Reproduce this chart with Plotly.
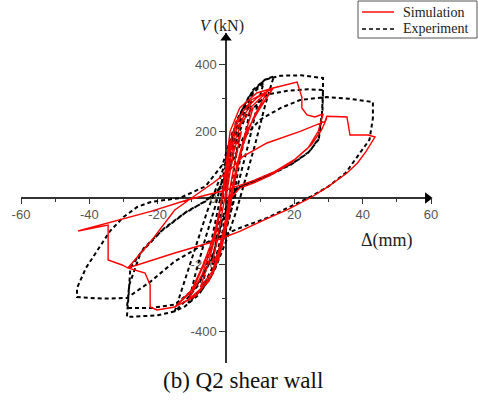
import plotly.graph_objects as go

# ---------------- data (displacement in mm, shear force in kN) ----------------
sim_disp_small = [0, 1.2, 2.5, 4.5, 2.8, 1.2, 0.3, -1, -2.5, -4, -2.5, -1, 0,
                  0.8, 2.2, 4.5, 8, 5.5, 3.2, 1.4, 0, -1.8, -4, -7.5, -5, -2.8, -1.2, 0,
                  1, 2.8, 6, 12, 8, 5, 3, 1.5, -0.2, -2, -5, -11, -7, -4, -2, -0.5,
                  0.6, 1.8, 5, 9, 13.8, 8.5, 5.5, 3.5, 1.8, 0.2, -1.8, -4.5, -9, -15,
                  -9.5, -6.5, -3.5, -1.5, -0.3,
                  0.8, 3, 7.5, 13.8, 10, 6, 3.8, 2, 0.5, -1.5, -4, -8.5, -15,
                  -10.5, -6.7, -3, -1.2, 0, 1.2, 4, 9, 13.8]
sim_force_small = [0, 80, 150, 200, 120, 30, -40, -110, -170, -195, -120, -40, 20,
                   90, 160, 225, 272, 190, 100, 10, -70, -150, -220, -268, -190, -100, -10, 60,
                   130, 200, 260, 318, 240, 160, 80, 0, -90, -180, -250, -305, -230, -140, -50, 30,
                   110, 190, 260, 300, 330, 250, 180, 100, 10, -80, -170, -240, -295, -327,
                   -270, -200, -110, -20, 60,
                   150, 230, 295, 330, 270, 200, 110, 20, -70, -160, -230, -290, -327,
                   -285, -200, -100, 0, 100, 200, 270, 315, 330]

sim_disp_large = [20.8, 22.2, 22.2, 23.7, 26, 28.4,
                  27, 24, 19, 13, 8, 4, 1.5, 0, -1.5, -4, -8.5, -15,
                  -20.2, -22.2, -22.2, -23.7, -28.7,
                  -22, -15, -8, -3.8, 1.2, 5, 12, 21.7, 29, 29.5, 35.4, 36.3, 41.6, 43.6,
                  41, 38.5, 35.4, 30, 24.6, 18, 12, 4, -5, -15, -28.7,
                  -30.4, -34.5, -34.5, -43.3,
                  -34.5, -22, -11.4, -4, 0, 4, 8, 14, 20, 25, 28, 29.5]
sim_force_large = [348, 303, 270, 249, 243, 252,
                   200, 150, 105, 68, 45, 30, 0, -60, -150, -230, -290, -327,
                   -336, -327, -261, -225, -210,
                   -130, -36, 15, 45, 84, 125, 165, 200, 230, 245, 243, 189, 189, 183,
                   140, 105, 75, 35, 0, -35, -62, -100, -135, -165, -210,
                   -201, -186, -81, -99,
                   -74, -40, -6, 12, 24, 38, 52, 78, 115, 160, 205, 240]

exp_disp_small = [0, 1, 2.5, 4, 3, 1.5, 0.5, -1, -2.5, -4, -3, -1.5, -0.5,
                  1, 3, 5.5, 7.5, 6, 4, 2.5, 1, -1.5, -4, -7, -5.5, -3.5, -1.5, 0,
                  2, 5, 8, 11, 9, 6.5, 4, 2, -0.5, -3.5, -7, -11, -9, -6, -3, -1,
                  1.5, 4.5, 8, 11.4, 14, 11.5, 8.5, 5.5, 3, 0, -3.5, -8, -12, -15,
                  -12.5, -9, -5.5, -2.5, 0]
exp_force_small = [0, 80, 150, 200, 130, 40, -30, -100, -160, -200, -130, -40, 30,
                   110, 190, 255, 290, 210, 110, 20, -60, -150, -230, -275, -190, -90, 10, 80,
                   170, 260, 315, 345, 270, 160, 60, -20, -110, -200, -270, -315, -230, -120, -20, 60,
                   160, 260, 325, 355, 365, 280, 160, 50, -40, -130, -220, -290, -325, -340,
                   -260, -150, -40, 40, 110]

exp_disp_large = [3, 7, 11.4, 16, 22, 28.4,
                  28.4, 28.1, 27, 24, 19, 13, 8, 4, 1, -1, -3.5, -8, -12, -15, -20, -29,
                  -28.5, -28, -24, -18, -11.4, -6, -2,
                  2, 6, 12, 18, 24, 28.4,
                  28.2, 27.2, 24.5, 19.5, 13.5, 8.5, 4.5, 1.5, -1, -4, -9, -15, -22, -29,
                  -28.3, -25, -19, -12, -6.5, -2.5,
                  1, 5, 10, 16, 21.7, 29.5, 36, 43,
                  43, 42, 40, 37, 35, 30, 25, 20, 12, 4, -5, -15, -22, -29, -36, -43.6,
                  -43.6, -41, -37.5, -34, -30, -26, -22, -13.5, -6, -1, 2]
exp_force_large = [230, 310, 355, 367, 368, 360,
                   330, 255, 174, 135, 100, 70, 48, 33, 5, -60, -160, -260, -310, -340, -352, -357,
                   -290, -210, -150, -90, -40, -10, 25,
                   150, 250, 310, 322, 326, 324,
                   250, 180, 140, 104, 74, 52, 36, 8, -70, -180, -270, -320, -330, -330,
                   -260, -165, -100, -45, -12, 20,
                   90, 180, 235, 270, 294, 303, 298, 288,
                   240, 175, 147, 105, 75, 35, 5, -20, -60, -90, -130, -190, -250, -300, -302, -297,
                   -270, -210, -156, -100, -57, -27, -12, 0, 35, 100, 200]

series_names = ["Simulation", "Experiment"]
series_colors = ["#ff0000", "black"]

x_ticks = [-60, -40, -20, 20, 40, 60]
x_tick_text = ["-60", "-40", "-20", "20", "40", "60"]
x_minor = [-50, -30, -10, 10, 30, 50]
y_ticks = [-400, -200, 0, 200, 400]
y_tick_text = ["-400", "-200", "0", "200", "400"]
y_minor = [-300, -100, 100, 300]

X_RANGE = [-60, 60]
Y_RANGE = [-495, 495]

W, H = 478, 414
PLOT_L, PLOT_R, PLOT_T, PLOT_B = 21, 431, 33, 363   # plot area in pixels
x_dom = [PLOT_L / W, PLOT_R / W]
y_dom = [(H - PLOT_B) / H, (H - PLOT_T) / H]
# paper position of the data origin, so the axes cross at (0, 0)
x0_paper = x_dom[0] + (0 - X_RANGE[0]) / (X_RANGE[1] - X_RANGE[0]) * (x_dom[1] - x_dom[0])
y0_paper = y_dom[0] + (0 - Y_RANGE[0]) / (Y_RANGE[1] - Y_RANGE[0]) * (y_dom[1] - y_dom[0])

SIM_LINE = dict(color=series_colors[0], width=1.4)
EXP_LINE = dict(color=series_colors[1], width=2, dash="4px,3px")

# ---------------- figure ----------------
fig = go.Figure()

fig.add_trace(go.Scatter(
    x=exp_disp_small + exp_disp_large, y=exp_force_small + exp_force_large,
    mode="lines", name=series_names[1], line=EXP_LINE, showlegend=False,
))
fig.add_trace(go.Scatter(
    x=sim_disp_small + sim_disp_large, y=sim_force_small + sim_force_large,
    mode="lines", name=series_names[0], line=SIM_LINE, showlegend=False,
))

# axis arrowheads
fig.add_trace(go.Scatter(x=[X_RANGE[1] - 1], y=[0], mode="markers", showlegend=False,
                         hoverinfo="skip", cliponaxis=False,
                         marker=dict(symbol="triangle-right", size=10, color="black")))
fig.add_trace(go.Scatter(x=[0], y=[Y_RANGE[1] - 15], mode="markers", showlegend=False,
                         hoverinfo="skip", cliponaxis=False,
                         marker=dict(symbol="triangle-up", size=10, color="black")))

serif = "Liberation Serif, Times New Roman, serif"

# compact boxed legend (top-right), in pixel-derived paper coordinates
def px(xp):
    return xp / W


def py(yp):
    return (H - yp) / H


leg_rows = [12, 29]
shapes = [dict(type="rect", xref="paper", yref="paper",
               x0=px(358), x1=px(477), y0=py(38), y1=py(1),
               line=dict(color="#555555", width=1), fillcolor="white", layer="above")]
annotations = []
for row, name, style in zip(leg_rows, series_names, [SIM_LINE, EXP_LINE]):
    shapes.append(dict(type="line", xref="paper", yref="paper",
                       x0=px(362), x1=px(394), y0=py(row), y1=py(row),
                       line=dict(color=style["color"], width=style["width"] if name == series_names[0] else 1.6,
                                 dash=style.get("dash", "solid")), layer="above"))
    annotations.append(dict(text=name, xref="paper", yref="paper", x=px(401), y=py(row),
                            xanchor="left", yanchor="middle", showarrow=False,
                            font=dict(family=serif, size=14, color="#222222")))

annotations += [
    dict(text="<i>V</i> (kN)", xref="paper", yref="paper", x=px(222), y=py(15),
         showarrow=False, font=dict(family=serif, size=16, color="#222222")),
    dict(text="\u0394(mm)", xref="paper", yref="paper", x=px(415), y=py(240),
         showarrow=False, font=dict(family=serif, size=18, color="#222222")),
    dict(text="(b) Q2 shear wall", xref="paper", yref="paper", x=px(243), y=py(395),
         showarrow=False, font=dict(family=serif, size=23, color="#111111")),
]

tickfont = dict(family="Liberation Sans", size=13, color="#555555")
fig.update_layout(
    width=W, height=H,
    margin=dict(l=0, r=0, t=0, b=0),
    paper_bgcolor="white", plot_bgcolor="white",
    showlegend=False,
    xaxis=dict(domain=x_dom, range=X_RANGE, anchor="free", position=y0_paper,
               automargin=False, showgrid=False, zeroline=False,
               showline=True, linecolor="#333333", linewidth=1.5,
               ticks="outside", ticklen=5, tickwidth=1.2, tickcolor="#333333",
               tickvals=x_ticks, ticktext=x_tick_text, tickfont=tickfont,
               minor=dict(tickvals=x_minor, ticks="outside", ticklen=3, tickcolor="#333333"),
               layer="below traces"),
    yaxis=dict(domain=y_dom, range=Y_RANGE, anchor="free", position=x0_paper,
               automargin=False, showgrid=False, zeroline=False,
               showline=True, linecolor="#333333", linewidth=1.5,
               ticks="outside", ticklen=6, tickwidth=1.2, tickcolor="#333333",
               tickvals=y_ticks, ticktext=y_tick_text, tickfont=tickfont,
               minor=dict(tickvals=y_minor, ticks="outside", ticklen=3, tickcolor="#333333"),
               layer="below traces"),
    shapes=shapes,
    annotations=annotations,
)

# remove the browser's default 8px body margin so the figure sits at the page origin
fig.write_html("out.html", config={"displayModeBar": False},
               post_script="document.body.style.margin='0';document.body.style.overflow='hidden';")
